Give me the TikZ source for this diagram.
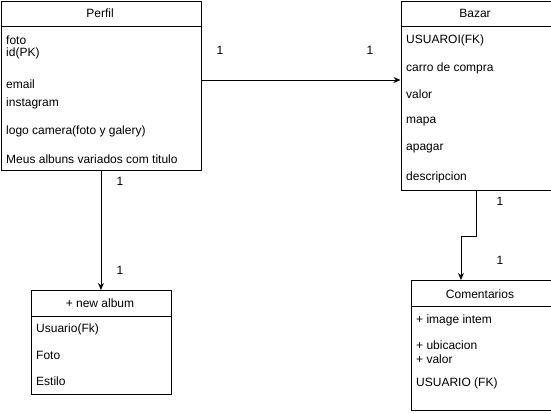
\documentclass[tikz,border=0pt]{standalone}
\usepackage{fontspec}
\setmainfont{Liberation Sans}
\usetikzlibrary{arrows.meta,calc}
\begin{document}
\begin{tikzpicture}[x=1pt,y=-1pt,
  box/.style={draw,line width=0.9pt,inner sep=0pt,anchor=north west},
  attr/.style={anchor=west,inner sep=0pt,font=\fontsize{12}{14}\selectfont},
  head/.style={inner sep=0pt,font=\fontsize{12}{14}\selectfont},
  card/.style={inner sep=0pt,font=\fontsize{12}{14}\selectfont},
  conn/.style={line width=0.9pt,-{Stealth[length=7pt,width=6pt]}}]
\useasboundingbox (0,0) rectangle (551,414);
% Perfil
\node[box,minimum width=200pt,minimum height=169pt] (perfil) at (0.5,1) {};
\draw[line width=0.9pt] (0.5,26) -- (200.5,26);
\node[head] (perfilh) at (100,13) {Perfil};
\node[attr] (p1) at (6,40) {foto};
\node[attr] (p2) at (6,53) {id(PK)};
\node[attr] (p3) at (6,84) {email};
\node[attr] (p4) at (6,103) {instagram};
\node[attr] (p5) at (6,131) {logo camera(foto y galery)};
\node[attr] (p6) at (6,159) {Meus albuns variados com titulo};
% Bazar
\node[box,minimum width=150pt,minimum height=189pt] (bazar) at (400.5,1) {};
\draw[line width=0.9pt] (400.5,26) -- (550.5,26);
\node[head] (bazarh) at (475,13) {Bazar};
\node[attr] (b1) at (406,40) {USUAROI(FK)};
\node[attr] (b2) at (406,68) {carro de compra};
\node[attr] (b3) at (406,94) {valor};
\node[attr] (b4) at (406,122) {mapa};
\node[attr] (b5) at (406,149) {apagar};
\node[attr] (b6) at (406,177) {descripcion};
% new album
\node[box,minimum width=140pt,minimum height=104pt] (album) at (30.5,290) {};
\draw[line width=0.9pt] (30.5,316) -- (170.5,316);
\node[head] (albumh) at (100,303) {+ new album};
\node[attr] (a1) at (36,329) {Usuario(Fk)};
\node[attr] (a2) at (36,355) {Foto};
\node[attr] (a3) at (36,381) {Estilo};
% Comentarios
\node[box,minimum width=140pt,minimum height=130pt] (coment) at (410.5,280) {};
\draw[line width=0.9pt] (410.5,306) -- (550.5,306);
\node[head] (comenth) at (480,294) {Comentarios};
\node[attr] (c1) at (416,320) {+ image intem};
\node[attr] (c2) at (416,345) {+ ubicacion};
\node[attr] (c3) at (416,359) {+ valor};
\node[attr] (c4) at (416,383) {USUARIO (FK)};
% connectors
\coordinate (pb1) at ($(perfil.north east)+(0,79)$);
\coordinate (pb2) at ($(bazar.north west)+(0,79)$);
\draw[conn] (pb1) -- (pb2);
\draw[conn] (perfil.south) -- (album.north);
\coordinate (bc1) at ($(bazar.south)$);
\coordinate (bc2) at ($(coment.north)+(-20,0)$);
\draw[conn] (bc1) -- ($(bc1)+(0,46)$) -| (bc2);
% cardinalities
\node[card] (l1) at (220,50) {1};
\node[card] (l2) at (370,50) {1};
\node[card] (l3) at (120,181) {1};
\node[card] (l4) at (120,270) {1};
\node[card] (l5) at (500,201) {1};
\node[card] (l6) at (500,260) {1};
\end{tikzpicture}
\end{document}
